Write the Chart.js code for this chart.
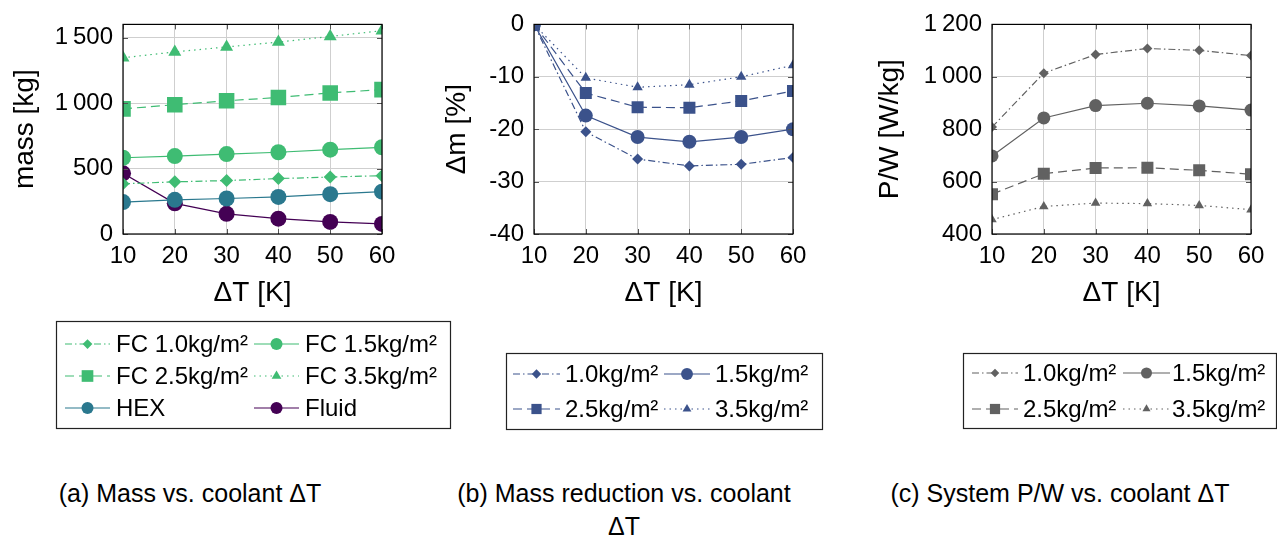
<!DOCTYPE html>
<html>
<head>
<meta charset="utf-8">
<script src="https://cdn.jsdelivr.net/npm/chart.js@4.4.1/dist/chart.umd.min.js"></script>
<style>
  html, body { margin: 0; padding: 0; background: #fff; }
  body { width: 1277px; height: 537px; position: relative; overflow: hidden;
         font-family: 'Liberation Sans', Arial, Helvetica, sans-serif; }
  .wrap { position: absolute; top: 0; height: 440px; }
  .cap { position: absolute; font-size: 25px; line-height: 33px; color: #000; text-align: center; white-space: nowrap; }
</style>
</head>
<body>
<div class="wrap" id="wa" style="left:0px;width:470px;"><canvas id="ca"></canvas></div>
<div class="wrap" id="wb" style="left:430px;width:420px;"><canvas id="cb"></canvas></div>
<div class="wrap" id="wc" style="left:860px;width:417px;"><canvas id="cc"></canvas></div>
<div class="cap" style="left:40px;width:300px;top:477px;">(a) Mass vs. coolant ΔT</div>
<div class="cap" style="left:424px;width:400px;top:477px;">(b) Mass reduction vs. coolant<br>ΔT</div>
<div class="cap" style="left:860px;width:400px;top:477px;">(c) System P/W vs. coolant ΔT</div>
<script>
// ---------------- data ----------------
const deltaT = [10, 20, 30, 40, 50, 60];
const xTicks = [10, 20, 30, 40, 50, 60];

// (a) mass [kg]
const massFC10 = [383, 398, 408, 423, 435, 445];
const massFC15 = [582, 595, 610, 624, 644, 662];
const massFC25 = [955, 987, 1017, 1042, 1077, 1102];
const massFC35 = [1345, 1390, 1428, 1465, 1508, 1552];
const massHEX = [244, 261, 271, 283, 304, 323];
const massFluid = [463, 234, 154, 117, 92, 77];
const massTicks = [0, 500, 1000, 1500];

// (b) mass reduction [%]
const red10 = [0, -20.5, -25.7, -27.0, -26.7, -25.4];
const red15 = [0, -17.4, -21.5, -22.4, -21.5, -20.0];
const red25 = [0, -13.1, -15.8, -15.9, -14.6, -12.7];
const red35 = [0, -10.2, -12.0, -11.5, -10.0, -7.8];
const redTicks = [-40, -30, -20, -10, 0];

// (c) P/W [W/kg]
const pw10 = [808, 1014, 1085, 1108, 1101, 1081];
const pw15 = [698, 843, 890, 899, 889, 873];
const pw25 = [552, 630, 652, 653, 643, 628];
const pw35 = [455, 505, 518, 516, 509, 493];
const pwTicks = [400, 600, 800, 1000, 1200];

// ---------------- styles ----------------
const FONT = "'Liberation Sans', Arial, Helvetica, sans-serif";
Chart.defaults.font.family = FONT;
Chart.defaults.color = '#000';
const GREEN = '#3fbc73', TEAL = '#2a788e', PURPLE = '#440154', NAVY = '#3b528b', GRAY = '#616161';
const DASHDOT = [7, 3, 1.5, 3];
const DASHED = [9, 5];
const DOTTED = [1.5, 4];
const TICK_SIZE = 24, TITLE_SIZE = 28, LEGEND_SIZE = 24;

function fmtThousands(v) {
  const s = String(Math.round(v));
  return s.length > 3 ? s.slice(0, s.length - 3) + '\u2009' + s.slice(s.length - 3) : s;
}

function pts(ys) { return deltaT.map((x, i) => ({ x: x, y: ys[i] })); }

function ds(label, ys, color, dash, style, r) {
  return {
    label: label, data: pts(ys),
    borderColor: color, backgroundColor: color,
    pointBackgroundColor: color, pointBorderColor: color, pointBorderWidth: 0,
    borderWidth: 1.2, borderDash: dash, pointStyle: style, pointRadius: r,
    tension: 0, fill: false
  };
}

// frame + inside tick marks
const framePlugin = {
  id: 'frame',
  afterDatasetsDraw(chart) {
    const { ctx, chartArea: a } = chart;
    ctx.save();
    ctx.strokeStyle = '#555';
    ctx.lineWidth = 1;
    const xs = chart.scales.x, ys = chart.scales.y;
    ctx.beginPath();
    xs.ticks.forEach(t => {
      const px = Math.round(xs.getPixelForValue(t.value)) + 0.5;
      ctx.moveTo(px, a.bottom); ctx.lineTo(px, a.bottom - 5);
      ctx.moveTo(px, a.top); ctx.lineTo(px, a.top + 5);
    });
    ys.ticks.forEach(t => {
      const py = Math.round(ys.getPixelForValue(t.value)) + 0.5;
      ctx.moveTo(a.left, py); ctx.lineTo(a.left + 5, py);
      ctx.moveTo(a.right, py); ctx.lineTo(a.right - 5, py);
    });
    ctx.stroke();
    ctx.strokeStyle = '#000';
    ctx.lineWidth = 1.2;
    ctx.strokeRect(a.left, a.top, a.right - a.left, a.bottom - a.top);
    ctx.restore();
  }
};

function drawMarker(ctx, style, r, x, y, color) {
  if (Chart.helpers && Chart.helpers.drawPoint) {
    ctx.fillStyle = color; ctx.strokeStyle = color; ctx.lineWidth = 0.01;
    Chart.helpers.drawPoint(ctx, { pointStyle: style, radius: r, rotation: 0, borderWidth: 0 }, x, y);
    return;
  }
  ctx.fillStyle = color;
  ctx.beginPath();
  if (style === 'circle') ctx.arc(x, y, r, 0, Math.PI * 2);
  else if (style === 'rect') { const s = r * Math.SQRT1_2; ctx.rect(x - s, y - s, 2 * s, 2 * s); }
  else if (style === 'rectRot') { ctx.moveTo(x, y - r); ctx.lineTo(x + r, y); ctx.lineTo(x, y + r); ctx.lineTo(x - r, y); ctx.closePath(); }
  else if (style === 'triangle') { ctx.moveTo(x, y - r); ctx.lineTo(x + r * 0.866, y + r / 2); ctx.lineTo(x - r * 0.866, y + r / 2); ctx.closePath(); }
  ctx.fill();
}

// custom boxed legend in two columns
const boxLegend = {
  id: 'boxLegend',
  afterDraw(chart, args, o) {
    const { ctx } = chart;
    ctx.save();
    ctx.fillStyle = '#fff';
    ctx.fillRect(o.box[0], o.box[1], o.box[2] - o.box[0], o.box[3] - o.box[1]);
    ctx.strokeStyle = '#222';
    ctx.lineWidth = 1.2;
    ctx.strokeRect(o.box[0] + 0.5, o.box[1] + 0.5, o.box[2] - o.box[0], o.box[3] - o.box[1]);
    chart.data.datasets.forEach((d, i) => {
      const col = o.cols[i % 2], y = o.rows[Math.floor(i / 2)];
      ctx.save();
      ctx.strokeStyle = d.borderColor;
      ctx.lineWidth = d.borderWidth;
      ctx.setLineDash(d.borderDash || []);
      ctx.beginPath();
      ctx.moveTo(col[0], y); ctx.lineTo(col[1], y);
      ctx.stroke();
      ctx.setLineDash([]);
      drawMarker(ctx, d.pointStyle, d.pointRadius * o.markerScale, (col[0] + col[1]) / 2, y, d.pointBackgroundColor);
      ctx.restore();
      ctx.fillStyle = '#000';
      ctx.font = o.fontSize + 'px ' + FONT;
      ctx.textAlign = 'left';
      ctx.textBaseline = 'middle';
      ctx.fillText(d.label, col[2], y + 1);
    });
    ctx.restore();
  }
};

function makeChart(id, datasets, cfg) {
  const canvasW = cfg.canvasW, canvasH = 440;
  const plotBottom = 234, xAxisH = 76;
  return new Chart(document.getElementById(id), {
    type: 'line',
    data: { datasets: datasets },
    options: {
      responsive: false, animation: false, maintainAspectRatio: false,
      devicePixelRatio: 1,
      layout: { padding: { left: 0, top: 19, right: canvasW - cfg.plotRight, bottom: canvasH - plotBottom - xAxisH } },
      plugins: { legend: { display: false }, tooltip: { enabled: false }, boxLegend: cfg.legend },
      scales: {
        x: {
          type: 'linear', min: 10, max: 60,
          afterBuildTicks(s) { s.ticks = xTicks.map(v => ({ value: v })); },
          afterFit(s) { s.height = xAxisH; },
          grid: { color: '#cfcfcf', lineWidth: 1, drawTicks: false },
          border: { display: false },
          ticks: { padding: 8, font: { size: TICK_SIZE }, color: '#000', maxRotation: 0 },
          title: { display: true, text: 'ΔT [K]', font: { size: TITLE_SIZE }, color: '#000', padding: { top: 0, bottom: 0 } }
        },
        y: {
          type: 'linear', min: cfg.yMin, max: cfg.yMax,
          afterBuildTicks(s) { s.ticks = cfg.yTicks.map(v => ({ value: v })); },
          afterFit(s) { s.width = cfg.plotLeft; },
          grid: { color: '#cfcfcf', lineWidth: 1, drawTicks: false },
          border: { display: false },
          ticks: { padding: 10, font: { size: TICK_SIZE }, color: '#000', callback: v => fmtThousands(v) },
          title: { display: true, text: cfg.yTitle, font: { size: TITLE_SIZE }, color: '#000', padding: { top: cfg.yTitlePad, bottom: 0 } }
        }
      }
    },
    plugins: [framePlugin, boxLegend]
  });
}

// size canvases
[['ca', 470], ['cb', 420], ['cc', 417]].forEach(([id, w]) => {
  const c = document.getElementById(id); c.width = w; c.height = 440;
  c.style.width = w + 'px'; c.style.height = '440px';
});

makeChart('ca', [
  ds('FC 1.0kg/m²', massFC10, GREEN, DASHDOT, 'rectRot', 6.5),
  ds('FC 1.5kg/m²', massFC15, GREEN, [], 'circle', 8),
  ds('FC 2.5kg/m²', massFC25, GREEN, DASHED, 'rect', 11),
  ds('FC 3.5kg/m²', massFC35, GREEN, DOTTED, 'triangle', 7.5),
  ds('HEX', massHEX, TEAL, [], 'circle', 8),
  ds('Fluid', massFluid, PURPLE, [], 'circle', 8)
], {
  canvasW: 470, plotLeft: 123, plotRight: 382, yMin: 0, yMax: 1600, yTicks: massTicks,
  yTitle: 'mass [kg]', yTitlePad: 8,
  legend: { box: [56, 321, 450, 428], rows: [344, 376, 408], cols: [[65, 110, 116], [254, 299, 305]], fontSize: LEGEND_SIZE, markerScale: 0.75 }
});

makeChart('cb', [
  ds('1.0kg/m²', red10, NAVY, DASHDOT, 'rectRot', 5.5),
  ds('1.5kg/m²', red15, NAVY, [], 'circle', 7),
  ds('2.5kg/m²', red25, NAVY, DASHED, 'rect', 8.5),
  ds('3.5kg/m²', red35, NAVY, DOTTED, 'triangle', 6)
], {
  canvasW: 420, plotLeft: 104, plotRight: 363, yMin: -40, yMax: 0, yTicks: redTicks,
  yTitle: 'Δm [%]', yTitlePad: 10,
  legend: { box: [76, 353, 392, 429], rows: [374, 409], cols: [[83, 130, 135], [234, 280, 285]], fontSize: LEGEND_SIZE, markerScale: 0.85 }
});

makeChart('cc', [
  ds('1.0kg/m²', pw10, GRAY, DASHDOT, 'rectRot', 5),
  ds('1.5kg/m²', pw15, GRAY, [], 'circle', 6.5),
  ds('2.5kg/m²', pw25, GRAY, DASHED, 'rect', 8.5),
  ds('3.5kg/m²', pw35, GRAY, DOTTED, 'triangle', 5.5)
], {
  canvasW: 417, plotLeft: 132, plotRight: 391, yMin: 400, yMax: 1200, yTicks: pwTicks,
  yTitle: 'P/W [W/kg]', yTitlePad: 13,
  legend: { box: [103, 353, 416, 428], rows: [373, 409], cols: [[112, 158, 163], [263, 310, 312]], fontSize: LEGEND_SIZE, markerScale: 0.85 }
});
</script>
</body>
</html>
